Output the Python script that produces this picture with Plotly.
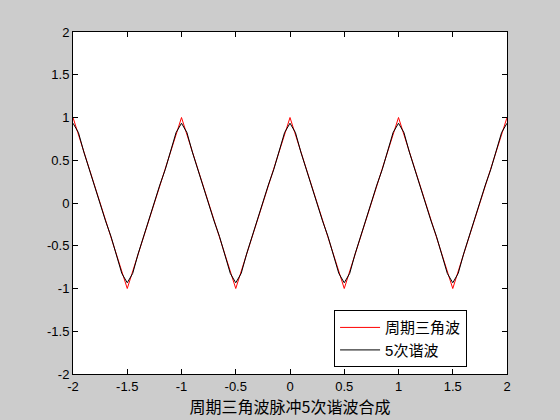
import numpy as np
import plotly.graph_objects as go

# periodic triangle wave: vertices
tri_t = [-2, -1.5, -1, -0.5, 0, 0.5, 1, 1.5, 2]
tri_y = [1, -1, 1, -1, 1, -1, 1, -1, 1]

# 5th-harmonic approximation, sampled every 0.05 from -2 to 2
harm_t = np.round(np.linspace(-2, 2, 81), 2)
harm_y = [
    0.933, 0.824, 0.596, 0.391, 0.210, 0.0, -0.210, -0.391, -0.596, -0.824,
    -0.933, -0.824, -0.596, -0.391, -0.210, 0.0, 0.210, 0.391, 0.596, 0.824,
    0.933, 0.824, 0.596, 0.391, 0.210, 0.0, -0.210, -0.391, -0.596, -0.824,
    -0.933, -0.824, -0.596, -0.391, -0.210, 0.0, 0.210, 0.391, 0.596, 0.824,
    0.933, 0.824, 0.596, 0.391, 0.210, 0.0, -0.210, -0.391, -0.596, -0.824,
    -0.933, -0.824, -0.596, -0.391, -0.210, 0.0, 0.210, 0.391, 0.596, 0.824,
    0.933, 0.824, 0.596, 0.391, 0.210, 0.0, -0.210, -0.391, -0.596, -0.824,
    -0.933, -0.824, -0.596, -0.391, -0.210, 0.0, 0.210, 0.391, 0.596, 0.824,
    0.933,
]

tick_vals = [-2, -1.5, -1, -0.5, 0, 0.5, 1, 1.5, 2]
tick_text = ["-2", "-1.5", "-1", "-0.5", "0", "0.5", "1", "1.5", "2"]

cjk = "Noto Sans CJK SC"
tick_font = dict(family="Liberation Sans, Arial", size=13, color="black")

fig = go.Figure()
fig.add_trace(go.Scatter(
    x=tri_t, y=tri_y, mode="lines", name="周期三角波",
    line=dict(color="red", width=1),
))
fig.add_trace(go.Scatter(
    x=harm_t, y=harm_y, mode="lines", name="5次谐波",
    line=dict(color="black", width=1),
))

axis_common = dict(
    tickvals=tick_vals, ticktext=tick_text, ticks="inside", ticklen=5,
    tickcolor="black", tickwidth=1, showgrid=False, zeroline=False,
    showline=True, linecolor="black", linewidth=1, mirror="ticks",
    tickfont=tick_font,
)

fig.update_xaxes(
    range=[-2, 2], title=dict(text="周期三角波脉冲5次谐波合成",
                               font=dict(family=cjk, size=16, color="black"),
                               standoff=4),
    **axis_common,
)
fig.update_yaxes(range=[-2, 2], **axis_common)

fig.update_layout(
    width=560, height=420,
    margin=dict(l=73, r=53, t=32, b=46),
    paper_bgcolor="#cccccc",
    plot_bgcolor="white",
    showlegend=True,
    legend=dict(
        x=0.908, y=0.02, xanchor="right", yanchor="bottom",
        bgcolor="white", bordercolor="black", borderwidth=1,
        font=dict(family="Liberation Sans, " + cjk, size=15, color="black"),
        tracegroupgap=0, itemwidth=40,
    ),
)

# drop the page margin so the figure sits at the window's corner
fig.write_html(
    "out.html",
    config={"displayModeBar": False},
    post_script="document.body.style.margin='0';"
                "document.body.style.background='#cccccc';",
)
